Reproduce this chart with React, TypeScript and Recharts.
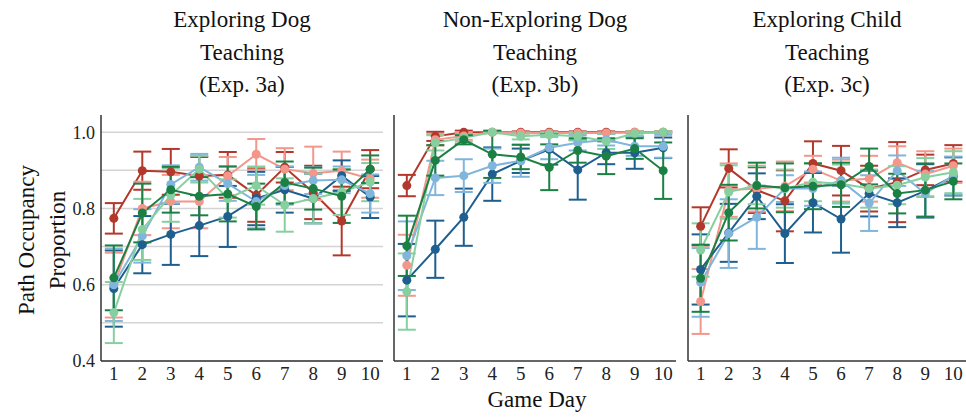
import React from "react";
import { LineChart, Line, XAxis, YAxis, CartesianGrid, ErrorBar } from "recharts";

// Game days shown on the x axis
const days = [1, 2, 3, 4, 5, 6, 7, 8, 9, 10];
const yTicks = [0.4, 0.5, 0.6, 0.7, 0.8, 0.9, 1.0];
const labeledTicks = [0.4, 0.6, 0.8, 1.0];

const seriesColors = ["#b3382c", "#f3968c", "#1f5f8f", "#80b5dc", "#1b8043", "#86d0a0"];

// Exploring Dog Teaching (Exp. 3a): mean and error per series
const exp3aDarkRed = [0.774, 0.899, 0.896, 0.885, 0.888, 0.835, 0.908, 0.842, 0.767, 0.903];
const exp3aDarkRedErr = [0.04, 0.05, 0.06, 0.05, 0.06, 0.07, 0.04, 0.07, 0.09, 0.05];
const exp3aLightRed = [0.599, 0.8, 0.818, 0.818, 0.885, 0.942, 0.903, 0.892, 0.899, 0.878];
const exp3aLightRedErr = [0.085, 0.07, 0.07, 0.07, 0.05, 0.04, 0.055, 0.07, 0.05, 0.05];
const exp3aDarkBlue = [0.59, 0.705, 0.732, 0.755, 0.779, 0.826, 0.849, 0.826, 0.886, 0.83];
const exp3aDarkBlueErr = [0.1, 0.075, 0.08, 0.08, 0.08, 0.07, 0.06, 0.065, 0.04, 0.055];
const exp3aLightBlue = [0.6, 0.728, 0.863, 0.908, 0.865, 0.818, 0.86, 0.873, 0.875, 0.839];
const exp3aLightBlueErr = [0.095, 0.07, 0.05, 0.035, 0.045, 0.07, 0.05, 0.035, 0.035, 0.05];
const exp3aDarkGreen = [0.618, 0.788, 0.849, 0.832, 0.838, 0.805, 0.868, 0.852, 0.832, 0.903];
const exp3aDarkGreenErr = [0.085, 0.077, 0.06, 0.05, 0.072, 0.06, 0.055, 0.055, 0.07, 0.036];
const exp3aLightGreen = [0.527, 0.745, 0.835, 0.903, 0.826, 0.86, 0.809, 0.826, 0.843, 0.869];
const exp3aLightGreenErr = [0.08, 0.08, 0.07, 0.035, 0.05, 0.05, 0.07, 0.065, 0.06, 0.05];

// Non-Exploring Dog Teaching (Exp. 3b)
const exp3bDarkRed = [0.86, 0.989, 1.0, 1.0, 1.0, 1.0, 1.0, 1.0, 1.0, 1.0];
const exp3bDarkRedErr = [0.028, 0.012, 0.004, 0.002, 0.002, 0.002, 0.002, 0.002, 0.002, 0.002];
const exp3bLightRed = [0.651, 0.98, 0.99, 1.0, 0.998, 0.998, 0.998, 0.998, 1.0, 1.0];
const exp3bLightRedErr = [0.08, 0.015, 0.01, 0.002, 0.002, 0.002, 0.002, 0.002, 0.002, 0.002];
const exp3bDarkBlue = [0.612, 0.693, 0.777, 0.89, 0.925, 0.955, 0.901, 0.946, 0.946, 0.959];
const exp3bDarkBlueErr = [0.095, 0.075, 0.075, 0.07, 0.032, 0.04, 0.078, 0.03, 0.042, 0.027];
const exp3bLightBlue = [0.676, 0.88, 0.886, 0.912, 0.925, 0.959, 0.972, 0.98, 0.963, 0.963];
const exp3bLightBlueErr = [0.09, 0.045, 0.043, 0.045, 0.042, 0.03, 0.02, 0.015, 0.025, 0.03];
const exp3bDarkGreen = [0.702, 0.926, 0.98, 0.942, 0.935, 0.908, 0.952, 0.937, 0.957, 0.899];
const exp3bDarkGreenErr = [0.079, 0.04, 0.012, 0.062, 0.032, 0.06, 0.032, 0.047, 0.027, 0.074];
const exp3bLightGreen = [0.582, 0.972, 0.985, 1.0, 0.989, 0.993, 0.989, 0.976, 0.997, 1.0];
const exp3bLightGreenErr = [0.1, 0.02, 0.01, 0.003, 0.008, 0.006, 0.01, 0.02, 0.005, 0.002];

// Exploring Child Teaching (Exp. 3c)
const exp3cDarkRed = [0.753, 0.905, 0.848, 0.82, 0.918, 0.899, 0.852, 0.869, 0.901, 0.918];
const exp3cDarkRedErr = [0.05, 0.05, 0.06, 0.08, 0.058, 0.065, 0.06, 0.105, 0.04, 0.048];
const exp3cLightRed = [0.556, 0.848, 0.852, 0.858, 0.903, 0.873, 0.878, 0.92, 0.89, 0.912];
const exp3cLightRedErr = [0.085, 0.07, 0.06, 0.065, 0.035, 0.055, 0.06, 0.043, 0.06, 0.045];
const exp3cDarkBlue = [0.64, 0.736, 0.832, 0.734, 0.815, 0.772, 0.839, 0.815, 0.846, 0.884];
const exp3cDarkBlueErr = [0.092, 0.076, 0.06, 0.077, 0.078, 0.088, 0.06, 0.064, 0.07, 0.05];
const exp3cLightBlue = [0.606, 0.734, 0.777, 0.852, 0.852, 0.873, 0.814, 0.899, 0.839, 0.886];
const exp3cLightBlueErr = [0.09, 0.09, 0.083, 0.035, 0.045, 0.06, 0.073, 0.04, 0.06, 0.05];
const exp3cDarkGreen = [0.617, 0.789, 0.86, 0.854, 0.858, 0.862, 0.91, 0.839, 0.848, 0.871];
const exp3cDarkGreenErr = [0.088, 0.073, 0.06, 0.064, 0.06, 0.058, 0.047, 0.052, 0.07, 0.047];
const exp3cLightGreen = [0.691, 0.843, 0.861, 0.852, 0.869, 0.865, 0.852, 0.861, 0.882, 0.895];
const exp3cLightGreenErr = [0.07, 0.07, 0.05, 0.05, 0.05, 0.05, 0.05, 0.05, 0.05, 0.055];

type Pair = [number[], number[]];

// Series order: dark red, light red, dark blue, light blue, dark green, light green
const panel3a: Pair[] = [
  [exp3aDarkRed, exp3aDarkRedErr],
  [exp3aLightRed, exp3aLightRedErr],
  [exp3aDarkBlue, exp3aDarkBlueErr],
  [exp3aLightBlue, exp3aLightBlueErr],
  [exp3aDarkGreen, exp3aDarkGreenErr],
  [exp3aLightGreen, exp3aLightGreenErr],
];
const panel3b: Pair[] = [
  [exp3bDarkRed, exp3bDarkRedErr],
  [exp3bLightRed, exp3bLightRedErr],
  [exp3bDarkBlue, exp3bDarkBlueErr],
  [exp3bLightBlue, exp3bLightBlueErr],
  [exp3bDarkGreen, exp3bDarkGreenErr],
  [exp3bLightGreen, exp3bLightGreenErr],
];
const panel3c: Pair[] = [
  [exp3cDarkRed, exp3cDarkRedErr],
  [exp3cLightRed, exp3cLightRedErr],
  [exp3cDarkBlue, exp3cDarkBlueErr],
  [exp3cLightBlue, exp3cLightBlueErr],
  [exp3cDarkGreen, exp3cDarkGreenErr],
  [exp3cLightGreen, exp3cLightGreenErr],
];

// Draw order so the dark green series sits on top
const drawOrder = [0, 1, 2, 3, 5, 4];

const buildRows = (panel: Pair[]) =>
  days.map((day, i) => {
    const row: Record<string, number> = { day };
    panel.forEach(([mean, err], s) => {
      row[`m${s}`] = mean[i];
      row[`e${s}`] = err[i];
    });
    return row;
  });

const FONT =
  '"Times New Roman", Times, "Liberation Serif", Tinos, "Noto Serif", "DejaVu Serif", serif';

interface PanelProps {
  panel: Pair[];
  left: number;
  plotWidth: number;
  showYLabels: boolean;
  title: string[];
}

const YAXIS_W = 40;
const CHART_TOP = 100;

function Panel({ panel, left, plotWidth, showYLabels, title }: PanelProps) {
  const rows = buildRows(panel);
  return (
    <>
      <div
        style={{
          position: "absolute",
          left: left + YAXIS_W - 60,
          width: plotWidth + 120,
          top: 4,
          textAlign: "center",
          fontFamily: FONT,
          fontSize: 23,
          lineHeight: "32.5px",
          color: "#111",
        }}
      >
        {title.map((t) => (
          <div key={t}>{t}</div>
        ))}
      </div>
      <div style={{ position: "absolute", left, top: CHART_TOP }}>
        <LineChart
          width={plotWidth + YAXIS_W}
          height={291}
          data={rows}
          margin={{ top: 15, right: 0, bottom: 0, left: 0 }}
          style={{ fontFamily: FONT }}
        >
          <CartesianGrid
            vertical={false}
            stroke="#d4d4d4"
            strokeWidth={1.5}
            horizontalValues={yTicks}
          />
          <XAxis
            dataKey="day"
            type="number"
            domain={[0.55, 10.45]}
            ticks={days}
            interval={0}
            height={30}
            tickLine={false}
            tickSize={4}
            axisLine={{ stroke: "#333", strokeWidth: 1.5 }}
            tick={{ fill: "#222", fontSize: 19, fontFamily: FONT }}
          />
          <YAxis
            type="number"
            domain={[0.4, 1.045]}
            ticks={yTicks}
            interval={0}
            width={YAXIS_W}
            tickLine={false}
            tickSize={4}
            axisLine={{ stroke: "#333", strokeWidth: 1.5 }}
            tick={showYLabels ? { fill: "#222", fontSize: 18, fontFamily: FONT } : false}
            tickFormatter={(v: number) =>
              labeledTicks.some((t) => Math.abs(t - v) < 1e-6) ? v.toFixed(1) : ""
            }
            allowDataOverflow
          />
          {drawOrder.map((s) => (
            <Line
              key={s}
              dataKey={`m${s}`}
              stroke={seriesColors[s]}
              strokeWidth={2}
              dot={{ r: 4.5, fill: seriesColors[s], stroke: seriesColors[s], strokeWidth: 0 }}
              activeDot={false}
              isAnimationActive={false}
            >
              <ErrorBar
                dataKey={`e${s}`}
                direction="y"
                width={9}
                stroke={seriesColors[s]}
                strokeWidth={2}
              />
            </Line>
          ))}
        </LineChart>
      </div>
    </>
  );
}

export default function App() {
  return (
    <div
      style={{
        position: "absolute",
        left: 0,
        top: 0,
        width: 966,
        height: 417,
        background: "#fff",
        overflow: "hidden",
        fontFamily: FONT,
      }}
    >
      <Panel panel={panel3a} left={101 - YAXIS_W} plotWidth={282} showYLabels title={["Exploring Dog", "Teaching", "(Exp. 3a)"]} />
      <Panel panel={panel3b} left={394 - YAXIS_W} plotWidth={282} showYLabels={false} title={["Non-Exploring Dog", "Teaching", "(Exp. 3b)"]} />
      <Panel panel={panel3c} left={688 - YAXIS_W} plotWidth={278} showYLabels={false} title={["Exploring Child", "Teaching", "(Exp. 3c)"]} />
      <div
        style={{
          position: "absolute",
          left: 42,
          top: 240,
          transform: "translate(-50%, -50%) rotate(-90deg)",
          fontFamily: FONT,
          fontSize: 23,
          lineHeight: "31px",
          textAlign: "center",
          whiteSpace: "nowrap",
          color: "#111",
        }}
      >
        <div>Path Occupancy</div>
        <div>Proportion</div>
      </div>
      <div
        style={{
          position: "absolute",
          left: 537,
          top: 400,
          transform: "translate(-50%, -50%)",
          fontFamily: FONT,
          fontSize: 23,
          whiteSpace: "nowrap",
          color: "#111",
        }}
      >
        Game Day
      </div>
    </div>
  );
}
